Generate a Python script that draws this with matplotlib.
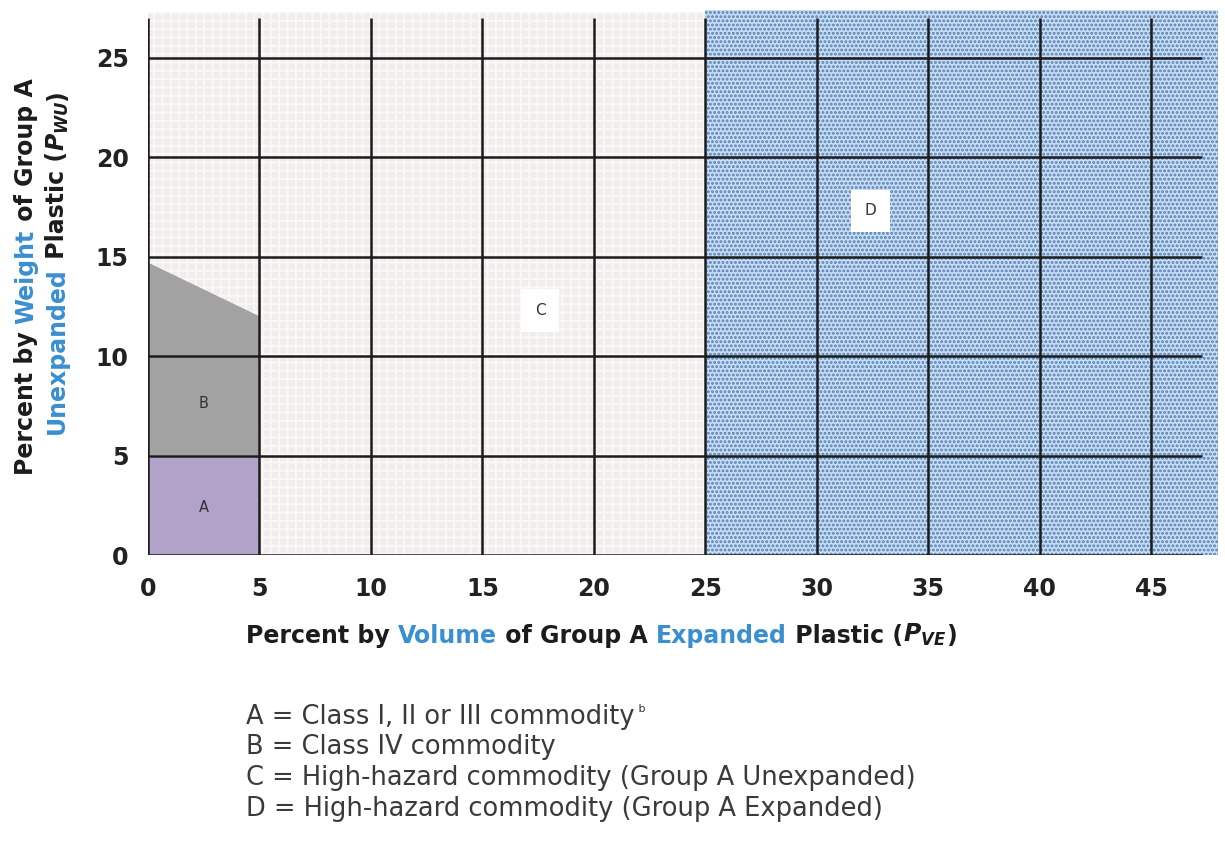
import numpy as np
import matplotlib
matplotlib.use("Agg")
import matplotlib.pyplot as plt
from matplotlib.patches import Polygon

plt.rcParams['font.family'] = ['DejaVu Sans']
plt.rcParams['mathtext.fontset'] = 'custom'
plt.rcParams['mathtext.it'] = 'DejaVu Sans:italic:bold'
plt.rcParams['mathtext.rm'] = 'DejaVu Sans:bold'
plt.rcParams['hatch.linewidth'] = 1.4

# data
x_ticks = [0, 5, 10, 15, 20, 25, 30, 35, 40, 45]
y_ticks = [0, 5, 10, 15, 20, 25]
grid_x_end = 47.3
grid_y_end = 27.0
region_x_end = 48.0
region_y_end = 27.4

region_a = [(0, 0), (5, 0), (5, 5), (0, 5)]
region_b = [(0, 5), (5, 5), (5, 12.0), (0, 14.7)]
region_c = [(0, 0), (25, 0), (25, 27.3), (0, 27.3)]
region_d = [(25, 0), (region_x_end, 0), (region_x_end, region_y_end), (25, region_y_end)]

labels = ["A", "B", "C", "D"]
label_pos = [(2.5, 2.4), (2.5, 7.6), (17.6, 12.3), (32.4, 17.3)]
label_boxed = [False, False, True, True]

legend_lines = [
    "A = Class I, II or III commodity",
    "B = Class IV commodity",
    "C = High-hazard commodity (Group A Unexpanded)",
    "D = High-hazard commodity (Group A Expanded)",
]

blue = '#3a8fd0'
dark = '#1c1c1c'

fig = plt.figure(figsize=(12.25, 8.43), dpi=100)
ax = fig.add_axes([0.1208, 0.3416, 0.998 - 0.1208, 0.993 - 0.3416])
ax.set_xlim(0, 48.2)
ax.set_ylim(0, 27.6)
for s in ax.spines.values():
    s.set_visible(False)

ax.add_patch(Polygon(region_c, closed=True, facecolor='#f2eded', edgecolor='#faf7f7',
                     hatch='++', lw=0, zorder=1))
ax.add_patch(Polygon(region_d, closed=True, facecolor='#c6ddf3', edgecolor='#567eb3',
                     hatch='....', lw=0, zorder=1))
ax.add_patch(Polygon(region_a, closed=True, facecolor='#b1a2c9', lw=0, zorder=2))
ax.add_patch(Polygon(region_b, closed=True, facecolor='#a2a2a2', lw=0, zorder=2))

ax.hlines(y_ticks, 0, grid_x_end, colors=dark, lw=1.8, zorder=3)
ax.vlines(x_ticks, 0, grid_y_end, colors=dark, lw=1.8, zorder=3)

for lab, (lx, ly), boxed in zip(labels, label_pos, label_boxed):
    if boxed:
        ax.text(lx, ly, lab, ha='center', va='center', fontsize=11, color='#333', zorder=5,
                bbox=dict(boxstyle='square,pad=0.9', fc='white', ec='none'))
    else:
        ax.text(lx, ly, lab, ha='center', va='center', fontsize=10.5, color='#333', zorder=5)

ax.set_xticks(x_ticks)
ax.set_yticks(y_ticks)
ax.tick_params(length=0, labelsize=17, colors='#222')
ax.tick_params(axis='x', pad=16)
ax.tick_params(axis='y', pad=14)
for t in ax.get_xticklabels() + ax.get_yticklabels():
    t.set_fontweight('bold')


def multicolor(x, y, parts, vertical=False, size=17, weight='bold', center=True):
    rot = 90 if vertical else 0
    first = fig.text(x, y, parts[0][0], color=parts[0][1], rotation=rot,
                     ha='left', va='bottom', fontsize=size, fontweight=weight)
    items = [first]
    prev = first
    for s, c in parts[1:]:
        xy = (0, 1) if vertical else (1, 0)
        t = ax.annotate(s, xy=xy, xycoords=prev, ha='left', va='bottom', rotation=rot,
                        color=c, fontsize=size, fontweight=weight, annotation_clip=False)
        items.append(t)
        prev = t
    if center:
        fig.canvas.draw()
        r = fig.canvas.get_renderer()
        b0 = first.get_window_extent(r)
        b1 = items[-1].get_window_extent(r)
        W, H = fig.bbox.width, fig.bbox.height
        if vertical:
            length = b1.y1 - b0.y0
            first.set_position((x, y - length / 2 / H))
        else:
            length = b1.x1 - b0.x0
            first.set_position((x - length / 2 / W, y))
    return items


multicolor(0.5 * (243 + 960) / 1225, 1 - 648 / 843,
           [("Percent by ", dark), ("Volume", blue), (" of Group A ", dark),
            ("Expanded", blue), (" Plastic (", dark), ("$P_{VE}$", dark), (")", dark)])

multicolor(14 / 1225, 1 - 277 / 843,
           [("Percent by ", dark), ("Weight", blue), (" of Group A", dark)], vertical=True)
multicolor(45 / 1225, 1 - 262 / 843,
           [("Unexpanded", blue), (" Plastic (", dark), ("$P_{WU}$", dark), (")", dark)],
           vertical=True)

y0 = 1 - 717 / 843
for i, line in enumerate(legend_lines):
    t = fig.text(246 / 1225, y0 - i * 30.5 / 843, line, ha='left', va='center',
                 fontsize=18.5, color='#3a3a3a')
    if i == 0:
        ax.annotate(" b", xy=(1, 1), xycoords=t, ha='left', va='top', fontsize=8,
                    color='#333', annotation_clip=False)

fig.savefig("out.png", dpi=100)
